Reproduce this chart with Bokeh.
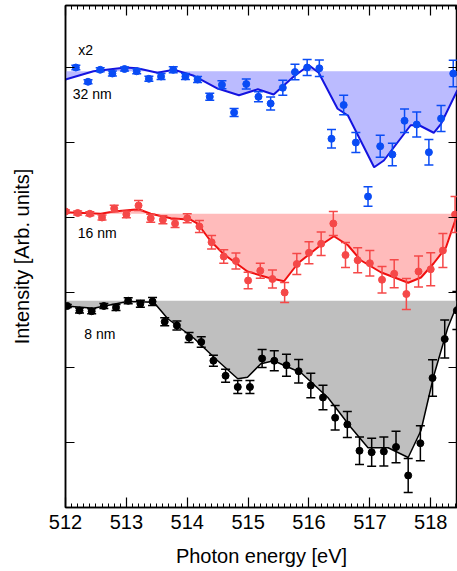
from bokeh.plotting import figure
from bokeh.models import (LinearAxis, FixedTicker, Whisker,
                          TeeHead, ColumnDataSource, Range1d)
from bokeh.core.properties import value
from bokeh.embed import file_html
from bokeh.resources import INLINE

FONT = "Liberation Sans"

# ---------------- data ----------------
x_ticks = [512, 513, 514, 515, 516, 517, 518]
y_ticks = [0, 1, 2, 3, 4, 5]

# 32 nm (x2)
blue_x = [512.17, 512.37, 512.57, 512.77, 512.97, 513.17, 513.37, 513.57, 513.77, 513.97,
          514.17, 514.37, 514.57, 514.77, 514.97, 515.17, 515.37, 515.57, 515.77, 515.97,
          516.17, 516.37, 516.57, 516.77, 516.97, 517.17, 517.37, 517.57, 517.77, 517.97,
          518.17, 518.37]
blue_y = [5.00, 4.81, 4.97, 4.92, 4.98, 4.95, 4.85, 4.88, 4.97, 4.88,
          4.84, 4.61, 4.77, 4.40, 4.78, 4.61, 4.52, 4.73, 4.94, 5.00,
          4.99, 4.05, 4.50, 4.00, 3.28, 3.95, 3.84, 4.29, 4.24, 3.87,
          4.32, 4.92]
blue_err = [0.03, 0.027, 0.027, 0.033, 0.027, 0.033, 0.033, 0.04, 0.04, 0.04,
            0.04, 0.047, 0.053, 0.053, 0.067, 0.067, 0.087, 0.10, 0.104, 0.107,
            0.11, 0.124, 0.129, 0.133, 0.13, 0.147, 0.151, 0.156, 0.167, 0.169,
            0.173, 0.177]
blue_fit_x = [512.00, 512.46, 512.99, 513.18, 513.51, 513.78, 514.11, 514.50, 514.85, 515.16,
              515.42, 515.75, 516.00, 516.16, 516.47, 516.64, 517.07, 517.23, 517.67, 517.81,
              518.05, 518.17, 518.44]
blue_fit_y = [4.84, 4.95, 5.00, 4.99, 4.93, 4.97, 4.89, 4.72, 4.63, 4.71,
              4.64, 4.88, 5.03, 4.93, 4.45, 4.36, 3.67, 3.76, 4.23, 4.23,
              4.13, 4.25, 4.70]
blue_base = 4.95

# 16 nm
red_x = [512.0, 512.2, 512.4, 512.6, 512.8, 513.0, 513.2, 513.4, 513.6, 513.8,
         514.0, 514.2, 514.4, 514.6, 514.8, 515.0, 515.2, 515.4, 515.6, 515.8,
         516.0, 516.2, 516.4, 516.6, 516.8, 517.0, 517.2, 517.4, 517.6, 517.8,
         518.0, 518.2, 518.4]
red_y = [3.08, 3.06, 3.05, 3.00, 3.12, 3.04, 3.16, 2.99, 2.97, 2.92,
         2.99, 2.88, 2.67, 2.48, 2.42, 2.16, 2.29, 2.18, 2.00, 2.38,
         2.53, 2.65, 2.92, 2.50, 2.43, 2.39, 2.17, 2.25, 1.98, 2.28,
         2.31, 2.56, 3.04]
red_err = [0.02, 0.027, 0.027, 0.033, 0.044, 0.044, 0.067, 0.053, 0.053, 0.053,
           0.06, 0.08, 0.089, 0.089, 0.107, 0.111, 0.10, 0.12, 0.133, 0.14,
           0.147, 0.156, 0.16, 0.167, 0.167, 0.171, 0.177, 0.187, 0.207, 0.207,
           0.22, 0.227, 0.24]
red_fit_x = [512.00, 512.58, 512.79, 513.20, 513.40, 513.73, 514.06, 514.17, 514.38, 514.60,
             514.99, 515.32, 515.59, 515.82, 516.19, 516.41, 516.64, 516.85, 517.18, 517.63,
             517.84, 518.05, 518.25, 518.44]
red_fit_y = [3.07, 3.05, 3.08, 3.11, 3.05, 2.99, 2.97, 2.92, 2.69, 2.51,
             2.28, 2.20, 2.15, 2.39, 2.63, 2.75, 2.63, 2.43, 2.27, 2.13,
             2.20, 2.39, 2.60, 3.05]
red_base = 3.05

# 8 nm
black_x = [512.03, 512.23, 512.43, 512.63, 512.83, 513.03, 513.23, 513.43, 513.63, 513.83,
           514.03, 514.23, 514.43, 514.63, 514.83, 515.03, 515.23, 515.43, 515.63, 515.83,
           516.03, 516.23, 516.43, 516.63, 516.83, 517.03, 517.23, 517.43, 517.63, 517.83,
           518.03, 518.23, 518.43]
black_y = [1.82, 1.76, 1.75, 1.82, 1.80, 1.89, 1.85, 1.88, 1.61, 1.56,
           1.40, 1.34, 1.09, 0.89, 0.74, 0.74, 1.12, 1.09, 1.03, 0.95,
           0.76, 0.60, 0.33, 0.24, -0.11, -0.13, -0.12, -0.06, -0.44, -0.01,
           0.86, 1.38, 1.76]
black_err = [0.02, 0.033, 0.033, 0.033, 0.04, 0.04, 0.047, 0.053, 0.053, 0.06,
             0.067, 0.071, 0.073, 0.087, 0.087, 0.087, 0.12, 0.133, 0.147, 0.156,
             0.164, 0.163, 0.164, 0.173, 0.183, 0.187, 0.193, 0.21, 0.227, 0.233,
             0.244, 0.253, 0.253]
black_fit_x = [512.00, 512.46, 513.02, 513.45, 513.68, 514.11, 514.50, 514.83, 514.99, 515.21,
               515.42, 515.87, 516.31, 516.69, 516.97, 517.30, 517.63, 517.84, 518.05, 518.28,
               518.44]
black_fit_y = [1.82, 1.79, 1.88, 1.87, 1.65, 1.39, 1.09, 0.85, 0.87, 1.05,
               1.09, 0.93, 0.60, 0.20, -0.07, -0.07, -0.20, 0.16, 0.89, 1.53,
               1.85]
black_base = 1.89

labels = ["x2", "32 nm", "16 nm", "8 nm"]
label_x = [512.21, 512.12, 512.20, 512.31]
label_y = [5.23, 4.65, 2.79, 1.45]

# minor tick positions every 0.1 eV
x_minor = [round(512 + 0.1 * i, 1) for i in range(0, 65) if i % 10 != 0]
blank_x = {t: "" for t in x_ticks}
blank_y = {t: "" for t in y_ticks}

# ---------------- figure ----------------
p = figure(width=457, height=571, output_backend="svg", toolbar_location=None,
           x_range=Range1d(512, 518.44), y_range=Range1d(-0.867, 5.827),
           min_border_left=65, min_border_right=0, min_border_top=5,
           min_border_bottom=64,
           x_axis_label="Photon energy [eV]", y_axis_label="Intensity [Arb. units]")
p.xgrid.visible = False
p.ygrid.visible = False
p.outline_line_color = "black"
p.outline_line_width = 1.5
p.background_fill_color = "white"
p.border_fill_color = "white"

xa = p.xaxis[0]
xa.ticker = FixedTicker(ticks=x_ticks, minor_ticks=x_minor)
xa.major_tick_in = 10
xa.major_tick_out = 0
xa.minor_tick_in = 4
xa.minor_tick_out = 0
xa.axis_line_width = 1.5
xa.major_tick_line_width = 1.2
xa.major_label_text_font = FONT
xa.major_label_text_font_size = "20px"
xa.major_label_text_color = "black"
xa.major_label_standoff = 7
xa.axis_label_text_font = FONT
xa.axis_label_text_font_size = "20px"
xa.axis_label_text_font_style = "normal"
xa.axis_label_text_color = "black"
xa.axis_label_standoff = 13

ya = p.yaxis[0]
ya.ticker = FixedTicker(ticks=y_ticks, minor_ticks=[])
ya.major_tick_in = 9
ya.major_tick_out = 0
ya.axis_line_width = 1.5
ya.major_tick_line_width = 1.2
ya.major_label_overrides = blank_y
ya.major_label_standoff = 0
ya.axis_label_text_font = FONT
ya.axis_label_text_font_size = "20px"
ya.axis_label_text_font_style = "normal"
ya.axis_label_text_color = "black"
ya.axis_label_standoff = 33

top = LinearAxis(ticker=FixedTicker(ticks=x_ticks, minor_ticks=x_minor),
                 major_tick_in=10, major_tick_out=0, minor_tick_in=4, minor_tick_out=0,
                 axis_line_width=1.5, major_tick_line_width=1.2,
                 major_label_overrides=blank_x, major_label_standoff=0)
p.add_layout(top, "above")
right = LinearAxis(ticker=FixedTicker(ticks=y_ticks, minor_ticks=[]),
                   major_tick_in=9, major_tick_out=0, axis_line_width=1.5,
                   major_tick_line_width=1.2,
                   major_label_overrides=blank_y, major_label_standoff=0)
p.add_layout(right, "right")


def series(px, py, perr, fx, fy, base, fill, line, mark, lw):
    p.varea(x=fx, y1=[base] * len(fx), y2=fy, fill_color=fill, fill_alpha=1.0)
    p.line(fx, fy, line_color=line, line_width=lw)
    src = ColumnDataSource(dict(x=px, y=py,
                                lo=[a - b for a, b in zip(py, perr)],
                                hi=[a + b for a, b in zip(py, perr)]))
    w = Whisker(base="x", upper="hi", lower="lo", source=src, level="glyph",
                line_color=mark, line_width=1.5,
                upper_head=TeeHead(size=9, line_color=mark, line_width=1.5),
                lower_head=TeeHead(size=9, line_color=mark, line_width=1.5))
    p.add_layout(w)
    p.scatter("x", "y", source=src, size=7, fill_color=mark, line_color=mark)


series(black_x, black_y, black_err, black_fit_x, black_fit_y, black_base,
       "#BFBFBF", "black", "black", 1.5)
series(red_x, red_y, red_err, red_fit_x, red_fit_y, red_base,
       "#FFBBBB", "#F01010", "#F54848", 2)
series(blue_x, blue_y, blue_err, blue_fit_x, blue_fit_y, blue_base,
       "#BBBBFF", "#1414E0", "#0A4CF5", 2)

p.text(x=label_x, y=label_y, text=labels, text_font=value(FONT),
       text_font_size="14px", text_baseline="middle", text_align="left",
       text_color="black")

open("out.html", "w").write(file_html(p, INLINE))
